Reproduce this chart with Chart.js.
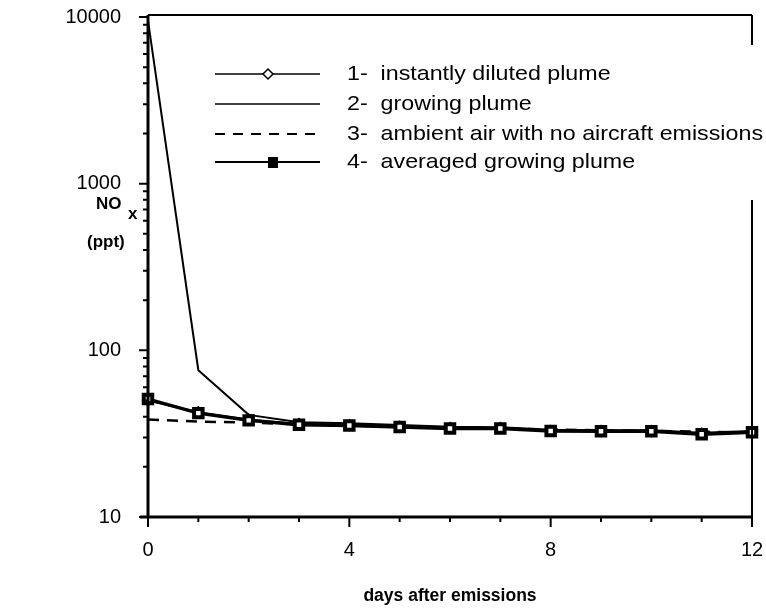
<!DOCTYPE html>
<html>
<head>
<meta charset="utf-8">
<script src="https://cdn.jsdelivr.net/npm/chart.js@4/dist/chart.umd.min.js"></script>
<style>
  html, body { margin:0; padding:0; background:#fff; }
  #wrap { width:766px; height:609px; position:relative; }
</style>
</head>
<body>
<div id="wrap"><canvas id="c" width="766" height="609"></canvas></div>
<script>
// days after emissions
const days = [0,1,2,3,4,5,6,7,8,9,10,11,12];
// NOx (ppt) per scenario
const diluted  = [50, 42.5, 38.5, 36.2, 35.6, 34.8, 34.2, 34.2, 32.9, 32.8, 32.8, 31.6, 32.4];
const growing  = [9500, 76, 41, 37, 36.5, 35.6, 34.8, 34.6, 33.4, 33.2, 33.2, 32, 32.8];
const ambient  = [38.5, 37.4, 36.8, 36, 35.4, 34.9, 34.4, 34, 33.5, 33.1, 32.9, 32.5, 32.1];
const averaged = [51, 42, 38, 35.8, 35.4, 34.7, 34, 34, 32.8, 32.7, 32.7, 31.4, 32.3];
const yTicks = [10, 100, 1000, 10000];
const xTicks = [0, 4, 8, 12];
const legendLabels = [
  '1-  instantly diluted plume',
  '2-  growing plume',
  '3-  ambient air with no aircraft emissions',
  '4-  averaged growing plume'
];

const FONT = '"Liberation Sans", Arial, sans-serif';
const pts = arr => arr.map((v, i) => ({ x: days[i], y: v }));

// text stretched horizontally to fit the scanned lettering
function wideText(ctx, t, x, y, sx) {
  ctx.save();
  ctx.translate(x, y);
  ctx.scale(sx, 1);
  ctx.fillText(t, 0, 0);
  ctx.restore();
}

// frame, ticks, tick labels, axis titles and legend drawn on top
const decor = {
  id: 'decor',
  afterDraw(chart) {
    const ctx = chart.ctx, a = chart.chartArea;
    const xs = chart.scales.x, ys = chart.scales.y;
    ctx.save();
    ctx.strokeStyle = '#000';
    // top and right frame (right side has a gap behind the legend)
    ctx.lineWidth = 2;
    ctx.beginPath();
    ctx.moveTo(a.left, a.top - 2); ctx.lineTo(a.right, a.top - 2);
    ctx.moveTo(a.right, a.top - 2); ctx.lineTo(a.right, 45);
    ctx.moveTo(a.right, 200); ctx.lineTo(a.right, a.bottom);
    ctx.stroke();
    // axes
    ctx.lineWidth = 3;
    ctx.beginPath();
    ctx.moveTo(a.left, a.top - 2); ctx.lineTo(a.left, a.bottom);
    ctx.moveTo(a.left - 8, a.bottom); ctx.lineTo(a.right, a.bottom);
    ctx.stroke();
    // y ticks (log, major + minor)
    ctx.lineWidth = 2;
    ctx.beginPath();
    for (let d = 10; d < 10000; d *= 10) {
      for (let m = 1; m < 10; m++) {
        const y = ys.getPixelForValue(d * m);
        ctx.moveTo(a.left, y); ctx.lineTo(a.left - (m === 1 ? 9 : 5), y);
      }
    }
    const yt = ys.getPixelForValue(10000);
    ctx.moveTo(a.left, yt); ctx.lineTo(a.left - 9, yt);
    // x ticks
    for (const d of days) {
      const x = xs.getPixelForValue(d);
      ctx.moveTo(x, a.bottom); ctx.lineTo(x, a.bottom + (d % 4 === 0 ? 10 : 5));
    }
    ctx.stroke();

    // tick labels
    ctx.fillStyle = '#000';
    ctx.textBaseline = 'middle';
    ctx.font = '20px ' + FONT;
    ctx.textAlign = 'right';
    yTicks.forEach(v => ctx.fillText(String(v), 121, ys.getPixelForValue(v)));
    ctx.textAlign = 'center';
    xTicks.forEach(v => ctx.fillText(String(v), xs.getPixelForValue(v), 550));

    // axis titles
    ctx.font = 'bold 17px ' + FONT;
    ctx.textAlign = 'left';
    ctx.fillText('NO', 96, 204);
    ctx.fillText('x', 128, 214);
    ctx.fillText('(ppt)', 87, 242);
    ctx.textAlign = 'center';
    ctx.font = 'bold 17.5px ' + FONT;
    ctx.fillText('days after emissions', 450, 596);

    // legend
    const rows = [74, 104, 134, 162];
    const x0 = 215, x1 = 320;
    ctx.font = '21px ' + FONT;
    ctx.textAlign = 'left';
    const w3 = ctx.measureText(legendLabels[2]).width;
    const sx = (763 - 347) / w3;
    legendLabels.forEach((t, i) => wideText(ctx, t, 347, rows[i], sx));
    ctx.lineWidth = 1.5;
    ctx.beginPath(); ctx.moveTo(x0, rows[0]); ctx.lineTo(x1, rows[0]); ctx.stroke();
    ctx.fillStyle = '#fff';
    ctx.beginPath();
    ctx.moveTo(268, rows[0] - 5); ctx.lineTo(273, rows[0]); ctx.lineTo(268, rows[0] + 5); ctx.lineTo(263, rows[0]);
    ctx.closePath(); ctx.fill(); ctx.stroke();
    ctx.beginPath(); ctx.moveTo(x0, rows[1]); ctx.lineTo(x1, rows[1]); ctx.stroke();
    ctx.lineWidth = 2;
    ctx.setLineDash([10, 8]);
    ctx.beginPath(); ctx.moveTo(x0, rows[2]); ctx.lineTo(x1, rows[2]); ctx.stroke();
    ctx.setLineDash([]);
    ctx.beginPath(); ctx.moveTo(x0, rows[3]); ctx.lineTo(x1, rows[3]); ctx.stroke();
    ctx.fillStyle = '#000';
    ctx.fillRect(268, rows[3] - 5, 10, 11);
    ctx.restore();
  }
};

new Chart(document.getElementById('c'), {
  type: 'line',
  data: {
    datasets: [
      { label: legendLabels[2], data: pts(ambient), borderColor: '#000', borderWidth: 2.5,
        borderDash: [11, 8], pointRadius: 0, order: 4 },
      { label: legendLabels[1], data: pts(growing), borderColor: '#000', borderWidth: 2,
        pointRadius: 0, order: 3 },
      { label: legendLabels[0], data: pts(diluted), borderColor: '#000', borderWidth: 2,
        pointStyle: 'rectRot', pointRadius: 5, pointBackgroundColor: '#fff',
        pointBorderColor: '#000', pointBorderWidth: 2, order: 2 },
      { label: legendLabels[3], data: pts(averaged), borderColor: '#000', borderWidth: 3.5,
        pointStyle: 'rect', pointRadius: 6, pointBackgroundColor: '#fff',
        pointBorderColor: '#000', pointBorderWidth: 4, order: 1 }
    ]
  },
  options: {
    responsive: false,
    animation: false,
    clip: false,
    layout: { padding: { top: 17, right: 14, left: 0, bottom: 0 } },
    plugins: { legend: { display: false }, tooltip: { enabled: false } },
    scales: {
      x: {
        type: 'linear', min: 0, max: 12,
        afterBuildTicks: s => { s.ticks = xTicks.map(v => ({ value: v })); },
        afterFit: s => { s.height = 92; },
        grid: { display: false },
        border: { display: false },
        ticks: { display: false }
      },
      y: {
        type: 'logarithmic', min: 10, max: 10000,
        afterBuildTicks: s => { s.ticks = yTicks.map(v => ({ value: v })); },
        afterFit: s => { s.width = 148; },
        grid: { display: false },
        border: { display: false },
        ticks: { display: false }
      }
    }
  },
  plugins: [decor]
});
</script>
</body>
</html>
